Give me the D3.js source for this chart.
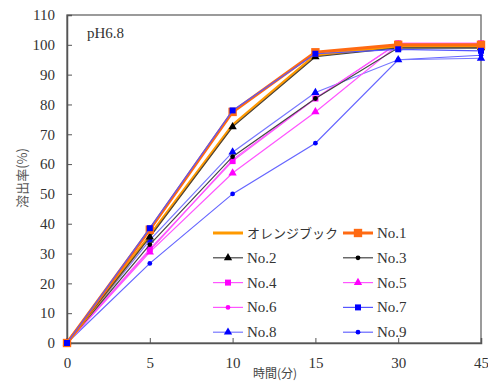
<!DOCTYPE html>
<html>
<head>
<meta charset="utf-8">
<script src="https://cdn.jsdelivr.net/npm/d3@7"></script>
<style>
  body { margin: 0; background: #fff; }
  .serif { font-family: "Liberation Serif", "Times New Roman", Tinos, "DejaVu Serif", serif; }
</style>
</head>
<body>
<div id="chart"></div>
<script>
// time points (min) and y ticks
const times = ["0", "5", "10", "15", "30", "45"];
const yTicks = [0, 10, 20, 30, 40, 50, 60, 70, 80, 90, 100, 110];

// dissolution rate (%) per product
const orangeBook = [0, 36, 73, 96.5, 99.5, 99.5];
const no1 = [0, 38, 77.5, 97.5, 100, 100];
const no2 = [0, 35.5, 72.5, 96, 99, 99];
const no3 = [0, 33, 62.5, 82, 99, 99];
const no4 = [0, 31.5, 61, 82, 100.5, 100.5];
const no5 = [0, 30.5, 57, 77.5, 100, 100];
const no6 = [0, 31, 61.5, 82, 100.5, 100.5];
const no7 = [0, 38.5, 78, 97, 98.5, 98];
const no8 = [0, 34.5, 64, 84, 95, 95.5];
const no9 = [0, 26.7, 50, 67, 95, 96.5];

const seriesNames = ["オレンジブック", "No.1", "No.2", "No.3", "No.4", "No.5", "No.6", "No.7", "No.8", "No.9"];
const seriesValues = [orangeBook, no1, no2, no3, no4, no5, no6, no7, no8, no9];
// styles per series: line colour, marker colour, marker shape, line width
const styles = [
  {line: "#ff9900", mark: null,      shape: null,       w: 3},
  {line: "#ff6a13", mark: "#ff6a13", shape: "square",   w: 3, size: 70},
  {line: "#444",    mark: "#000",    shape: "triangle", w: 1.2, size: 30},
  {line: "#444",    mark: "#000",    shape: "diamond",  w: 1.2, size: 18},
  {line: "#ff55ff", mark: "#ff00ff", shape: "square",   w: 1.2, size: 36},
  {line: "#ff55ff", mark: "#ff00ff", shape: "triangle", w: 1.2, size: 30},
  {line: "#ff55ff", mark: "#ff00ff", shape: "diamond",  w: 1.2, size: 18},
  {line: "#5555ff", mark: "#0000ff", shape: "square",   w: 1.2, size: 36},
  {line: "#7777ff", mark: "#0000ff", shape: "triangle", w: 1.2, size: 30},
  {line: "#6666ff", mark: "#0000ff", shape: "diamond",  w: 1.2, size: 18}
];

const jp = "'Noto Sans CJK JP', sans-serif";

const width = 488, height = 381;
const margin = {top: 15, right: 7, bottom: 38, left: 67};
const innerW = width - margin.left - margin.right;
const innerH = height - margin.top - margin.bottom;

const svg = d3.select("#chart").append("svg")
  .attr("width", width)
  .attr("height", height);

const g = svg.append("g")
  .attr("transform", "translate(" + margin.left + "," + margin.top + ")");

const x = d3.scalePoint().domain(times).range([0, innerW]);
const y = d3.scaleLinear().domain([0, 110]).range([innerH, 0]);

// frame
g.append("rect")
  .attr("width", innerW).attr("height", innerH)
  .attr("fill", "none").attr("stroke", "#666").attr("stroke-width", 1.3);

// axes, ticks pointing inward
const yAxis = g.append("g")
  .call(d3.axisLeft(y).tickValues(yTicks).tickSize(-5).tickPadding(12));
const xAxis = g.append("g")
  .attr("transform", "translate(0," + innerH + ")")
  .call(d3.axisBottom(x).tickSize(-5).tickPadding(14));

[yAxis, xAxis].forEach(a => {
  a.attr("font-family", null).attr("font-size", 15);
  a.select(".domain").attr("stroke", "#555").attr("stroke-width", 1.5);
  a.selectAll(".tick line").attr("stroke", "#555");
  a.selectAll(".tick text").attr("class", "serif").attr("fill", "#333");
});

// axis titles
svg.append("text")
  .attr("x", 275).attr("y", 378)
  .attr("text-anchor", "middle")
  .attr("font-size", 12)
  .attr("font-family", jp)
  .attr("fill", "#444")
  .text("時間(分)");

svg.append("text")
  .attr("transform", "translate(27,178) rotate(-90)")
  .attr("text-anchor", "middle")
  .attr("font-size", 13)
  .attr("font-family", jp)
  .attr("fill", "#555")
  .text("溶出率(%)");

g.append("text")
  .attr("class", "serif")
  .attr("x", 20).attr("y", 23)
  .attr("font-size", 15)
  .attr("fill", "#333")
  .text("pH6.8");

const symType = {square: d3.symbolSquare, triangle: d3.symbolTriangle, diamond: d3.symbolCircle};
const line = d3.line().x((d, i) => x(times[i])).y(d => y(d));

// drawing order so No.1/No.7 sit on top like the reference
const order = [9, 8, 6, 5, 4, 3, 0, 2, 1, 7];
order.forEach(k => {
  const st = styles[k];
  g.append("path")
    .datum(seriesValues[k])
    .attr("d", line)
    .attr("fill", "none")
    .attr("stroke", st.line)
    .attr("stroke-width", st.w);
  if (st.shape) {
    g.selectAll(".m" + k)
      .data(seriesValues[k])
      .enter().append("path")
      .attr("class", "m" + k)
      .attr("transform", (d, i) => "translate(" + x(times[i]) + "," + y(d) + ")")
      .attr("d", d3.symbol().type(symType[st.shape]).size(st.size))
      .attr("fill", st.mark);
  }
});

// legend
const legend = svg.append("g");
seriesNames.forEach((name, k) => {
  const st = styles[k];
  const col = k % 2, row = Math.floor(k / 2);
  const lx = 213 + col * 130, ly = 233 + row * 24.8;
  legend.append("line")
    .attr("x1", lx).attr("x2", lx + 30)
    .attr("y1", ly).attr("y2", ly)
    .attr("stroke", st.line).attr("stroke-width", st.w);
  if (st.shape) {
    legend.append("path")
      .attr("transform", "translate(" + (lx + 15) + "," + ly + ")")
      .attr("d", d3.symbol().type(symType[st.shape]).size(st.size))
      .attr("fill", st.mark);
  }
  const t = legend.append("text")
    .attr("x", lx + 34).attr("y", ly + 5)
    .attr("font-size", k === 0 ? 13 : 15)
    .attr("fill", "#333")
    .text(name);
  if (k === 0) t.attr("font-family", jp);
  else t.attr("class", "serif");
});
</script>
</body>
</html>
